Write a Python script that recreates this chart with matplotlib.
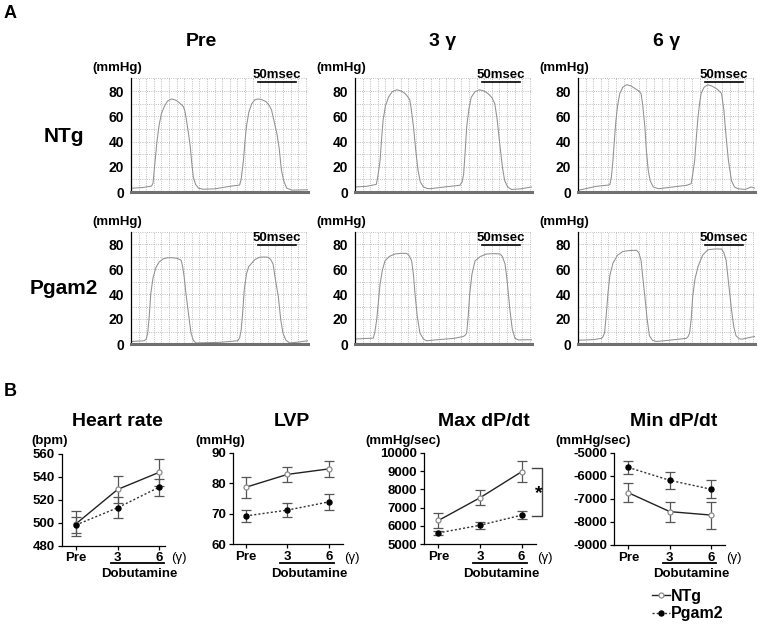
import numpy as np
import matplotlib.pyplot as plt
from matplotlib import transforms

plt.rcParams['font.family'] = ['Liberation Sans', 'DejaVu Sans']
plt.rcParams['font.weight'] = 'bold'
plt.rcParams['axes.unicode_minus'] = False

W, H = 760, 629

# ---- Panel A: LV pressure traces (time in msec, pressure in mmHg) ----
ntg_pre_t = [0, 15, 27, 29, 31, 34, 37, 40, 44, 48, 53, 58, 62, 66, 69, 71, 73, 76, 78, 80, 82, 85, 89, 95,
             110, 130, 143, 145, 148, 150, 152, 155, 159, 163, 167, 172, 178, 182, 185, 188, 192, 195, 198, 201,
             205, 212, 222, 233]
ntg_pre_p = [3, 3.5, 4.7, 7, 20, 39, 53, 62, 68, 72, 73.7, 73, 71.5, 69.5, 67.6, 64, 57, 45, 36, 23, 12, 6, 3, 2.2,
             2.5, 4.5, 5.5, 10, 25, 40, 52, 63, 70, 73, 73.7, 73.2, 71.5, 68.5, 65, 57, 46.5, 35, 17.4, 9,
             3, 1.5, 1.6, 1.8]

ntg_3_t = [0, 15, 28, 30, 33, 35, 37, 40, 44, 49, 55, 61, 66, 70, 72, 74, 77, 80, 83, 86, 90, 95, 99, 115,
           138, 141, 143, 145, 147, 150, 153, 158, 164, 170, 175, 180, 184, 187, 191, 194, 197, 201, 206, 218, 233]
ntg_3_p = [4, 4.5, 6, 12, 25, 42, 57, 68, 75, 79.5, 81, 80, 78, 75, 73, 66, 51.6, 33, 17, 8, 4, 2.8, 2.6, 3.8,
           5.3, 8, 14, 32, 51.6, 66, 75, 79.5, 81, 80, 78, 75, 70, 58, 35.7, 20, 9, 4, 2, 2.5, 4]

ntg_6_t = [0, 24, 40, 42, 44, 46, 48, 50, 52, 55, 59, 64, 70, 75, 80, 83, 85, 88, 90, 92.5, 95, 99, 106, 125,
           143, 149, 151, 153.6, 156, 158, 160, 162, 166, 171, 176, 182, 186, 189, 192, 195, 198, 202, 206,
           210.5, 220, 228, 233]
ntg_6_p = [1.3, 4.5, 5.5, 6, 12, 25, 42, 57, 68, 78, 83, 85, 84, 82, 80, 78, 70, 51.6, 33, 17, 9, 4, 2.6, 4,
           5.3, 6.6, 14, 25, 45, 59.5, 70, 78, 83, 85, 84, 82, 80, 78, 65, 43.6, 25, 9, 4,
           2.6, 2, 4, 3]

pg_pre_t = [0, 17.5, 20, 22, 24, 26, 29, 33, 37, 42, 48, 55, 61, 66, 68, 70, 72, 74.5, 77, 79, 82, 85.5, 95,
            116, 130, 140.6, 143, 145, 147, 149, 152, 155, 158, 163, 169, 175, 180.6, 184, 187, 190, 194, 197,
            200, 204, 209, 220, 233]
pg_pre_p = [2, 2.6, 4, 8.7, 22, 40, 53, 61.5, 65.5, 68, 69, 69, 68.5, 67, 62, 53.6, 42, 30, 18, 8.7, 3, 0.8, 1,
            1.3, 2, 2.6, 5, 11, 25, 43, 56, 62, 64, 67.5, 69.4, 69.6, 69.4, 67.5, 64, 52, 37.7, 20,
            8.7, 3, 0.8, 1.5, 2.6]

pg_3_t = [0, 24, 26, 28.5, 31, 33, 36, 39.5, 45, 52.6, 60, 68, 71, 74.6, 77, 79, 82, 85.5, 90, 94, 110, 130,
          142.5, 145, 147, 149, 151, 154, 158, 165, 173, 182, 191, 194, 197.5, 200, 204, 207, 210.5, 215, 225, 233]
pg_3_p = [4, 4.7, 9, 19, 35, 48, 59, 66.5, 70, 72, 72.5, 72.5, 71, 66.5, 55, 40, 22, 8.7, 4, 2.6, 3.5, 4.5,
          6, 7, 8.7, 22, 40, 56, 66.5, 70, 72, 72.3, 72, 70, 64, 52, 27, 12, 4.7, 3.2, 3.4, 3.4]

pg_6_t = [0, 20, 31, 33, 35, 37, 39.5, 42, 46, 52, 59, 68, 77, 80, 83, 85, 88, 91, 94, 98, 103, 120,
          142.6, 145, 147, 149, 151, 154, 158, 164, 171, 180, 189, 192, 195, 198, 202, 205, 208, 213, 217, 228, 233]
pg_6_p = [3, 3.5, 4.5, 6, 9, 22, 41, 55, 64.7, 71, 74, 74.8, 75, 73, 67, 55, 38, 20, 6.6, 3, 2, 3,
          4.5, 6, 9, 20, 38, 52, 62, 71, 75.4, 76, 76, 73, 67, 50, 27.7, 14, 6.6, 4, 4, 5.5, 6]

col_titles = ['Pre', '3 \u03b3', '6 \u03b3']
row_titles = ['NTg', 'Pgam2']

# ---- Panel B: hemodynamics during dobutamine ----
doses = ['Pre', '3', '6']
hr_ntg = [499, 529, 544]
hr_ntg_err = [11, 12, 12]
hr_pg = [498, 513, 531]
hr_pg_err = [7, 9, 7.5]
lvp_ntg = [78.7, 82.9, 84.7]
lvp_ntg_err = [3.4, 2.4, 2.5]
lvp_pg = [69.3, 71.2, 73.9]
lvp_pg_err = [1.9, 2.2, 2.7]
max_ntg = [6300, 7540, 8960]
max_ntg_err = [430, 410, 570]
max_pg = [5620, 6040, 6590]
max_pg_err = [110, 200, 210]
min_ntg = [-6740, -7560, -7710]
min_ntg_err = [420, 430, 590]
min_pg = [-5640, -6200, -6590]
min_pg_err = [290, 375, 395]


def rect(l, r, t, b):
    return [l / W, 1 - b / H, (r - l) / W, (b - t) / H]


def ftext(x, y, s, **kw):
    fig.text(x / W, 1 - y / H, s, ha='center', va='center', **kw)


fig = plt.figure(figsize=(W / 100, H / 100), dpi=100)

ftext(10, 13, 'A', fontsize=13)
ftext(10, 392, 'B', fontsize=13)

traces = [[(ntg_pre_t, ntg_pre_p), (ntg_3_t, ntg_3_p), (ntg_6_t, ntg_6_p)],
          [(pg_pre_t, pg_pre_p), (pg_3_t, pg_3_p), (pg_6_t, pg_6_p)]]
rows = [(78.4, 192), (231.5, 344)]
cols = [(131, 308), (355, 532), (578, 755)]
bar_y = [87, 79]
title_x = [201, 443, 667]

for i, (top, bot) in enumerate(rows):
    ftext(64, (top + bot) / 2 + 1, row_titles[i], fontsize=15)
    for j, (left, right) in enumerate(cols):
        ax = fig.add_axes(rect(left, right, top, bot))
        t, p = traces[i][j]
        ax.plot(t, p, color='#909090', lw=0.75)
        ax.set_xlim(0, 233)
        ax.set_ylim(0, 90)
        ax.set_xticks(np.arange(0, 233, 10))
        ax.set_xticklabels([])
        ax.set_yticks([0, 20, 40, 60, 80])
        ax.set_yticks([10, 30, 50, 70, 90], minor=True)
        ax.grid(which='both', ls=':', color='#a8a8a8', lw=0.6)
        ax.tick_params(axis='x', length=0)
        ax.tick_params(axis='y', which='both', length=0, pad=5, labelsize=10)
        for s in ['top', 'right']:
            ax.spines[s].set_visible(False)
        ax.spines['left'].set_linewidth(0.9)
        ax.spines['bottom'].set_color('#707070')
        ax.spines['bottom'].set_linewidth(2.2)
        ax.plot([167, 217], [bar_y[i], bar_y[i]], color='k', lw=1.2, clip_on=False)
        ax.text(192, bar_y[i] + 1.2, '50msec', ha='center', va='bottom', fontsize=9.5)
        ftext(left - 14, top - 10, '(mmHg)', fontsize=9.5)
        if i == 0:
            ftext(title_x[j], 42, col_titles[j], fontsize=14)

# ---- Panel B axes ----
panels = [
    ('Heart rate', '(bpm)', hr_ntg, hr_ntg_err, hr_pg, hr_pg_err, (480, 560), np.arange(480, 561, 20),
     (61.7, 165, 454, 545.5), (-0.345, 2.14), 20),
    ('LVP', '(mmHg)', lvp_ntg, lvp_ntg_err, lvp_pg, lvp_pg_err, (60, 90), np.arange(60, 91, 10),
     (232.7, 342.7, 452.7, 544.3), (-0.32, 2.33), 23),
    ('Max dP/dt', '(mmHg/sec)', max_ntg, max_ntg_err, max_pg, max_pg_err, (5000, 10000),
     np.arange(5000, 10001, 1000), (424.3, 535.7, 452.7, 544.3), (-0.34, 2.34), 23),
    ('Min dP/dt', '(mmHg/sec)', min_ntg, min_ntg_err, min_pg, min_pg_err, (-9000, -5000),
     np.arange(-9000, -4999, 1000), (614.3, 725, 452.7, 544.8), (-0.34, 2.33), 23),
]
ylab_x = [50, 220, 403, 593]

x = np.arange(len(doses))
handles = None
for k, (title, unit, yn, en, yp, ep, ylim, yticks, (l, r, t, b), xlim, gam) in enumerate(panels):
    ax = fig.add_axes(rect(l, r, t, b))
    ax.errorbar(x, yn, yerr=en, fmt='none', ecolor='#555555', elinewidth=0.9, capsize=3.5, capthick=0.9)
    ax.errorbar(x, yp, yerr=ep, fmt='none', ecolor='#555555', elinewidth=0.9, capsize=3.5, capthick=0.9)
    h1, = ax.plot(x, yn, '-', color='#222222', lw=1.0, marker='o', ms=3.6,
                  mfc='white', mec='#8a8a8a', mew=0.9, zorder=3)
    h2, = ax.plot(x, yp, ls=(0, (1.5, 1.5)), color='#333333', lw=1.0, marker='o', ms=3.6,
                  mfc='black', mec='black', zorder=4)
    handles = [h1, h2]
    ax.set_xlim(*xlim)
    ax.set_ylim(*ylim)
    ax.set_yticks(yticks)
    ax.set_xticks(x)
    ax.set_xticklabels(doses)
    ax.tick_params(labelsize=9.5, length=3, width=0.9, pad=2)
    for s in ['top', 'right']:
        ax.spines[s].set_visible(False)
    for s in ['left', 'bottom']:
        ax.spines[s].set_linewidth(0.9)
    ftext((l + r) / 2 + 4, 421, title, fontsize=14)
    ftext(ylab_x[k], 441, unit, fontsize=9.5)

    tr = transforms.blended_transform_factory(ax.transData, fig.transFigure)
    ax.plot([0.83, 2.12], [1 - 563 / H] * 2, color='k', lw=1.3, transform=tr, clip_on=False)
    ax.text(1.52, 1 - 574 / H, 'Dobutamine', transform=tr, ha='center', va='center', fontsize=9.5)
    ax.text(2 + gam / 41.6, 1 - 557.5 / H, '(\u03b3)', transform=tr, ha='center', va='center',
            fontsize=9.5, fontweight='normal')

    if title == 'Max dP/dt':
        ax.plot([2.25, 2.5, 2.5, 2.25], [9180, 9180, 6545, 6545], color='#444444', lw=1.0, clip_on=False)
        ax.text(2.42, 7750, '*', ha='center', va='center', fontsize=14, clip_on=False)

fig.legend(handles, ['NTg', 'Pgam2'], loc='upper left', bbox_to_anchor=(652 / W, 1 - 589 / H),
           frameon=False, fontsize=11.5, handlelength=1.1, handletextpad=0.1, labelspacing=0.15,
           borderpad=0, borderaxespad=0)

fig.savefig('out.png', dpi=100)
